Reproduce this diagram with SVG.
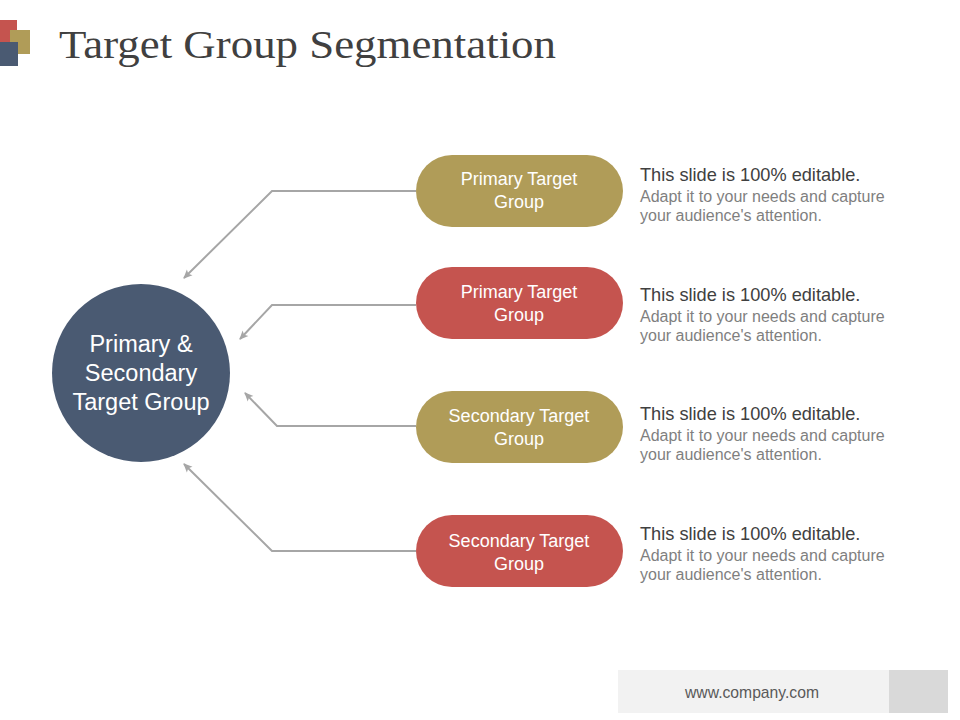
<svg xmlns="http://www.w3.org/2000/svg" width="960" height="720" viewBox="0 0 960 720">
<defs>
<style>
.title{font-family:"Liberation Serif","DejaVu Serif",serif;font-size:41px;fill:#404040}
.pill-t{font-family:"Liberation Sans",Arial,sans-serif;font-size:18px;fill:#ffffff;text-anchor:middle}
.circ-t{font-family:"Liberation Sans",Arial,sans-serif;font-size:23.5px;fill:#ffffff;text-anchor:middle}
.h{font-family:"Liberation Sans",Arial,sans-serif;font-size:18.2px;fill:#404040}
.s{font-family:"Liberation Sans",Arial,sans-serif;font-size:16px;fill:#7f7f7f}
.conn{fill:none;stroke:#a6a6a6;stroke-width:2}
.gold{fill:#b09c58}
.red{fill:#c5544f}
</style>
<marker id="arr" markerWidth="10" markerHeight="10" refX="8" refY="5" orient="auto" markerUnits="userSpaceOnUse">
<path d="M0,1 L9,5 L0,9 L2,5 Z" fill="#a6a6a6"/>
</marker>
</defs>
<rect width="960" height="720" fill="#ffffff"/>
<g id="logo">
<rect x="0" y="20" width="17" height="23" fill="#c5544f"/>
<rect x="10" y="30" width="20" height="24" fill="#b09c58"/>
<rect x="0" y="42" width="18" height="24" fill="#4a5a72"/>
</g>
<text class="title" x="59" y="58" textLength="497" lengthAdjust="spacingAndGlyphs">Target Group Segmentation</text>
<g id="connectors">
<polyline class="conn" points="416,191 272,191 184,278" marker-end="url(#arr)"/>
<polyline class="conn" points="416,305 272,305 240,339" marker-end="url(#arr)"/>
<polyline class="conn" points="416,426 277,426 245,393" marker-end="url(#arr)"/>
<polyline class="conn" points="416,551 272,551 184,464" marker-end="url(#arr)"/>
</g>
<g id="center">
<circle cx="141" cy="373" r="89" fill="#4a5a72"/>
<text class="circ-t" x="141" y="352">Primary &amp;</text>
<text class="circ-t" x="141" y="381">Secondary</text>
<text class="circ-t" x="141" y="410">Target Group</text>
</g>
<g id="node1">
<rect class="gold" x="416" y="155" width="207" height="72" rx="36"/>
<text class="pill-t" x="519" y="185">Primary Target</text>
<text class="pill-t" x="519" y="208">Group</text>
</g>
<g id="node2">
<rect class="red" x="416" y="267" width="207" height="72" rx="36"/>
<text class="pill-t" x="519" y="298">Primary Target</text>
<text class="pill-t" x="519" y="321">Group</text>
</g>
<g id="node3">
<rect class="gold" x="416" y="391" width="207" height="72" rx="36"/>
<text class="pill-t" x="519" y="422">Secondary Target</text>
<text class="pill-t" x="519" y="445">Group</text>
</g>
<g id="node4">
<rect class="red" x="416" y="515" width="207" height="72" rx="36"/>
<text class="pill-t" x="519" y="547">Secondary Target</text>
<text class="pill-t" x="519" y="570">Group</text>
</g>
<g id="desc1">
<text class="h" x="640" y="181">This slide is 100% editable.</text>
<text class="s" x="640" y="202">Adapt it to your needs and capture</text>
<text class="s" x="640" y="221">your audience's attention.</text>
</g>
<g id="desc2">
<text class="h" x="640" y="301">This slide is 100% editable.</text>
<text class="s" x="640" y="322">Adapt it to your needs and capture</text>
<text class="s" x="640" y="341">your audience's attention.</text>
</g>
<g id="desc3">
<text class="h" x="640" y="420">This slide is 100% editable.</text>
<text class="s" x="640" y="441">Adapt it to your needs and capture</text>
<text class="s" x="640" y="460">your audience's attention.</text>
</g>
<g id="desc4">
<text class="h" x="640" y="540">This slide is 100% editable.</text>
<text class="s" x="640" y="561">Adapt it to your needs and capture</text>
<text class="s" x="640" y="580">your audience's attention.</text>
</g>
<g id="footer">
<rect x="618" y="670" width="271" height="43" fill="#f2f2f2"/>
<rect x="889" y="670" width="59" height="43" fill="#d9d9d9"/>
<text x="752" y="698" font-family="Liberation Sans, Arial, sans-serif" font-size="15.7" fill="#595959" text-anchor="middle">www.company.com</text>
</g>
</svg>
